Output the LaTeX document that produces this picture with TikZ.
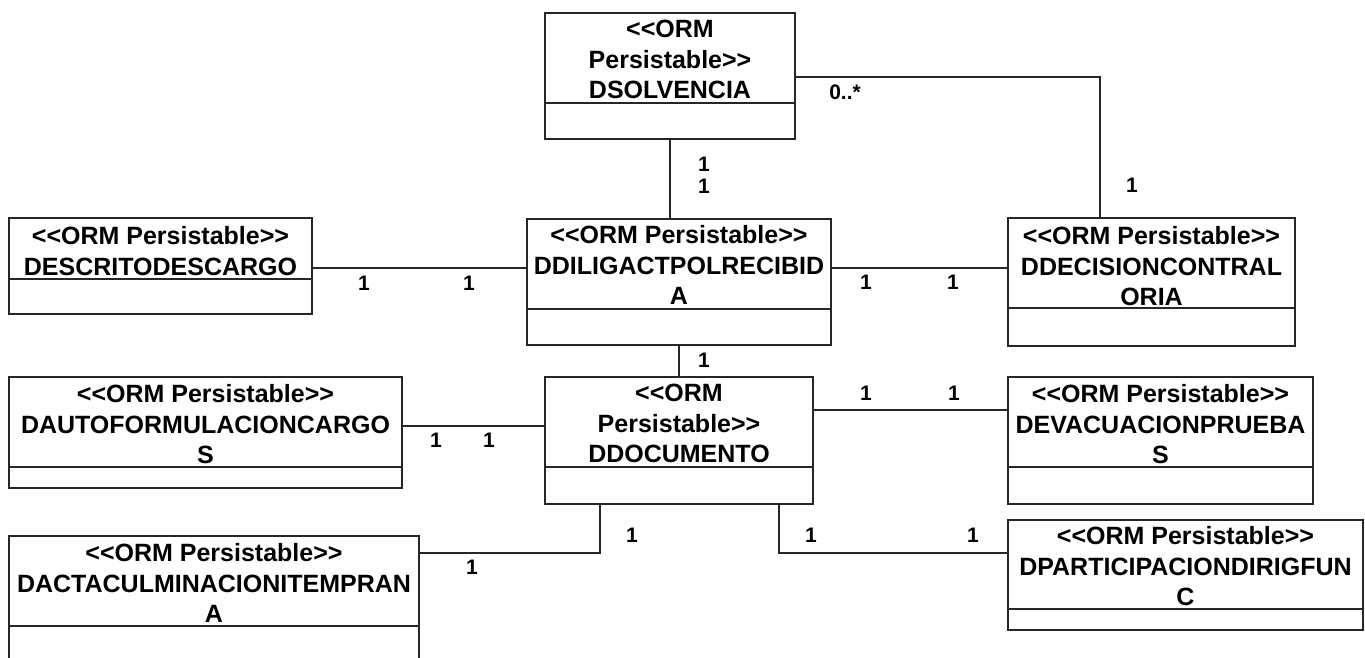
\documentclass[tikz,border=0pt]{standalone}
\usepackage{fontspec}
\setmainfont{Liberation Sans}[Ligatures=TeXOff]
\usetikzlibrary{fit}

\begin{document}
\begin{tikzpicture}[x=0.5pt, y=-0.5pt,
  clase/.style={draw=black!85, line width=1pt, inner sep=0pt},
  linea/.style={draw=black!85, line width=1pt},
  titulo/.style={anchor=north, align=center, inner sep=0pt, font=\fontsize{12.5}{15.25}\selectfont\bfseries},
  mult/.style={inner sep=0pt, font=\fontsize{10.5}{12}\selectfont\bfseries}]
\useasboundingbox (0,0) rectangle (1365,658);
\clip (0,0) rectangle (1365,658);

% clases
\node[clase, fit={(545,13) (795,139)}] (sol) {};
\draw[linea] (sol.west |- 0,103) -- (sol.east |- 0,103);
\node[titulo] (tsol) at (sol.north |- 0,20) {<<ORM\\Persistable>>\\DSOLVENCIA};

\node[clase, fit={(9,218) (312,314)}] (esc) {};
\draw[linea] (esc.west |- 0,279) -- (esc.east |- 0,279);
\node[titulo] (tesc) at (esc.north |- 0,226) {<<ORM Persistable>>\\DESCRITODESCARGO};

\node[clase, fit={(527,219) (831,345)}] (dil) {};
\draw[linea] (dil.west |- 0,309) -- (dil.east |- 0,309);
\node[titulo] (tdil) at (dil.north |- 0,225) {<<ORM Persistable>>\\DDILIGACTPOLRECIBID\\A};

\node[clase, fit={(1008,218) (1295,346)}] (dec) {};
\draw[linea] (dec.west |- 0,308) -- (dec.east |- 0,308);
\node[titulo] (tdec) at (dec.north |- 0,226) {<<ORM Persistable>>\\DDECISIONCONTRAL\\ORIA};

\node[clase, fit={(9,377) (402,488)}] (aut) {};
\draw[linea] (aut.west |- 0,467) -- (aut.east |- 0,467);
\node[titulo] (taut) at (aut.north |- 0,384) {<<ORM Persistable>>\\DAUTOFORMULACIONCARGO\\S};

\node[clase, fit={(545,377) (813,504)}] (doc) {};
\draw[linea] (doc.west |- 0,467) -- (doc.east |- 0,467);
\node[titulo] (tdoc) at (doc.north |- 0,384) {<<ORM\\Persistable>>\\DDOCUMENTO};

\node[clase, fit={(1008,377) (1313,504)}] (eva) {};
\draw[linea] (eva.west |- 0,467) -- (eva.east |- 0,467);
\node[titulo] (teva) at (eva.north |- 0,384) {<<ORM Persistable>>\\DEVACUACIONPRUEBA\\S};

\node[clase, fit={(9,536) (419,690)}] (act) {};
\draw[linea] (act.west |- 0,626) -- (act.east |- 0,626);
\node[titulo] (tact) at (act.north |- 0,543) {<<ORM Persistable>>\\DACTACULMINACIONITEMPRAN\\A};

\node[clase, fit={(1008,520) (1363,630)}] (par) {};
\draw[linea] (par.west |- 0,609) -- (par.east |- 0,609);
\node[titulo] (tpar) at (par.north |- 0,526) {<<ORM Persistable>>\\DPARTICIPACIONDIRIGFUN\\C};

% relaciones
\draw[linea] (sol.south) -- (sol.south |- dil.north);
\draw[linea] (sol.east |- 0,77) -| (1100,0 |- dec.north);
\draw[linea] (esc.east |- 0,268) -- (dil.west |- 0,268);
\draw[linea] (dil.east |- 0,268) -- (dec.west |- 0,268);
\draw[linea] (dil.south) -- (dil.south |- doc.north);
\draw[linea] (aut.east |- 0,426) -- (doc.west |- 0,426);
\draw[linea] (doc.east |- 0,410) -- (eva.west |- 0,410);
\draw[linea] (600,0 |- doc.south) |- (act.east |- 0,553);
\draw[linea] (779,0 |- doc.south) |- (par.west |- 0,553);

% multiplicidades
\node[mult] (m1) at (704,164) {1};
\node[mult] (m2) at (704,186) {1};
\node[mult] (m3) at (845,92) {0..*};
\node[mult] (m4) at (1132,185) {1};
\node[mult] (m5) at (364,283) {1};
\node[mult] (m6) at (469,283) {1};
\node[mult] (m7) at (866,282) {1};
\node[mult] (m8) at (953,282) {1};
\node[mult] (m9) at (704,360) {1};
\node[mult] (m10) at (436,440) {1};
\node[mult] (m11) at (489,440) {1};
\node[mult] (m12) at (866,393) {1};
\node[mult] (m13) at (954,393) {1};
\node[mult] (m14) at (632,535) {1};
\node[mult] (m15) at (472,567) {1};
\node[mult] (m16) at (811,535) {1};
\node[mult] (m17) at (973,535) {1};
\end{tikzpicture}
\end{document}
